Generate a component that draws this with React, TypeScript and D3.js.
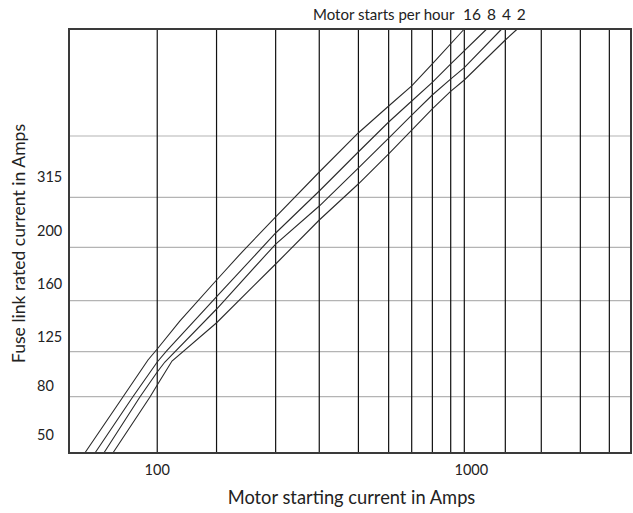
import React from "react";
import * as d3 from "d3";

// ---- data ----
const seriesNames = ["16", "8", "4", "2"];
// motor starting current (A) and fuse-rating level (chart level units)
const line16X = [58.1, 77.3, 93.3, 100, 118.6, 156.1, 190.2, 243.1, 337.1, 451.5, 567.2, 674.2, 786.7, 1000];
const line16Y = [0, 1.057, 1.755, 1.962, 2.491, 3.264, 3.811, 4.453, 5.302, 6.038, 6.547, 6.925, 7.34, 8];
const line8X = [62.7, 83.2, 100, 107.3, 156.1, 243.1, 337.1, 451.5, 567.2, 674.2, 786.7, 900.3, 1183];
const line8Y = [0, 1.057, 1.717, 1.925, 2.949, 4.151, 4.943, 5.679, 6.245, 6.642, 6.994, 7.334, 8];
const line4X = [67.0, 87.8, 100, 105.9, 156.1, 243.1, 337.1, 451.5, 567.2, 674.2, 786.7, 900.3, 1000, 1324];
const line4Y = [0, 1.057, 1.528, 1.717, 2.717, 3.943, 4.66, 5.377, 5.943, 6.377, 6.755, 7.051, 7.27, 8];
const line2X = [71.7, 94.7, 100, 111.7, 156.1, 243.1, 337.1, 451.5, 567.2, 674.2, 786.7, 900.3, 1000, 1360, 1488];
const line2Y = [0, 1.057, 1.283, 1.736, 2.458, 3.566, 4.396, 5.075, 5.642, 6.094, 6.491, 6.817, 7.038, 7.792, 8];

const xGrid = [100, 156, 243, 337, 452, 567, 674, 787, 903, 1000, 1360, 1781, 2387, 2967];
const xTickLabels = [100, 1000];
const yGridLevels = [1.062, 1.911, 2.874, 3.881, 4.825, 5.981];
const yTickLabels = ["50", "80", "125", "160", "200", "315"];
const yTickLevels = [0.34, 1.264, 2.189, 3.189, 4.189, 5.208];

const W = 633;
const H = 513;
const margin = { left: 69, right: 2, top: 29, bottom: 60 };
const FONT = "Lato, 'Open Sans', sans-serif";

export default function App() {
  const x = d3.scaleLog().domain([51.6, 3490]).range([margin.left, W - margin.right]);
  const y = d3.scaleLinear().domain([0, 8]).range([H - margin.bottom, margin.top]);
  const line = d3
    .line<[number, number]>()
    .x((d) => x(d[0]))
    .y((d) => y(d[1]));
  const series = [
    [line16X, line16Y],
    [line8X, line8Y],
    [line4X, line4Y],
    [line2X, line2Y],
  ].map(([xs, ys]) => xs.map((v, i) => [v, ys[i]] as [number, number]));

  const x0 = margin.left;
  const x1 = W - margin.right;
  const y0 = H - margin.bottom;
  const y1 = margin.top;

  return (
    <svg
      width={W}
      height={H}
      style={{ position: "absolute", left: 0, top: 0, background: "#fff" }}
      fontFamily={FONT}
    >
      <rect x={0} y={0} width={W} height={H} fill="#fff" />
      {/* horizontal grey gridlines */}
      {yGridLevels.map((l, i) => (
        <line key={"h" + i} x1={x0} x2={x1} y1={y(l)} y2={y(l)} stroke="#b4b4b4" strokeWidth={1.2} />
      ))}
      {/* vertical gridlines */}
      {xGrid.map((v, i) => (
        <line key={"v" + i} x1={x(v)} x2={x(v)} y1={y1} y2={y0} stroke="#111" strokeWidth={1.2} />
      ))}
      {/* curves */}
      {series.map((s, i) => (
        <path key={"s" + i} d={line(s) || ""} fill="none" stroke="#2a2a2a" strokeWidth={1.1} />
      ))}
      {/* frame */}
      <rect x={x0} y={y1} width={x1 - x0} height={y0 - y1} fill="none" stroke="#3a3a3a" strokeWidth={2} />
      {/* x tick labels */}
      {xTickLabels.map((v) => (
        <text key={"xt" + v} x={x(v) + (v >= 1000 ? 7 : 0)} y={475} textAnchor="middle" fontSize={14.5} fill="#222">
          {v}
        </text>
      ))}
      {/* y tick labels */}
      {yTickLabels.map((t, i) => (
        <text key={"yt" + t} x={37} y={y(yTickLevels[i])} dy="0.35em" fontSize={14.5} fill="#222">
          {t}
        </text>
      ))}
      {/* axis titles */}
      <text x={351.5} y={504} textAnchor="middle" fontSize={18.3} fill="#222">
        Motor starting current in Amps
      </text>
      <text
        transform={`translate(25,243.5) rotate(-90)`}
        textAnchor="middle"
        fontSize={17.6}
        fill="#222"
      >
        Fuse link rated current in Amps
      </text>
      {/* top legend */}
      <text x={313} y={20} fontSize={15} fill="#222">
        Motor starts per hour
      </text>
      <text x={463} y={20} fontSize={15.5} fill="#222" wordSpacing={2}>
        {seriesNames.join(" ")}
      </text>
    </svg>
  );
}
